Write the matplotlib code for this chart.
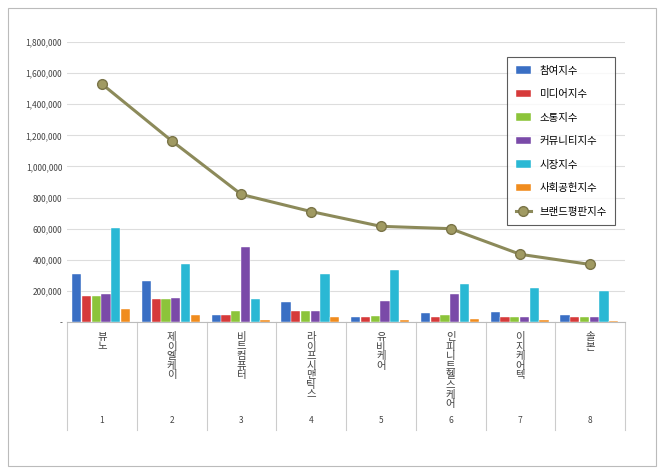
import matplotlib
matplotlib.use("Agg")
import matplotlib.pyplot as plt
from matplotlib import font_manager
import numpy as np
from matplotlib.patches import Rectangle

cjk = [f.name for f in font_manager.fontManager.ttflist if "CJK" in f.name]
pref = [n for n in ["Noto Sans CJK KR", "Noto Sans CJK JP", "Noto Sans CJK SC"] if n in cjk] + cjk
plt.rcParams["font.family"] = (pref[:1] if pref else []) + ["DejaVu Sans"]

categories = ["뷰노", "제이엘케이", "비트컴퓨터", "라이프시맨틱스", "유비케어", "인피니트헬스케어", "이지케어텍", "솔본"]
numbers = ["1", "2", "3", "4", "5", "6", "7", "8"]
series_names = ["참여지수", "미디어지수", "소통지수", "커뮤니티지수", "시장지수", "사회공헌지수"]
participation = [310000, 265000, 45000, 130000, 35000, 55000, 65000, 45000]
media = [170000, 150000, 45000, 70000, 35000, 30000, 35000, 30000]
communication = [170000, 150000, 70000, 70000, 40000, 45000, 35000, 35000]
community = [180000, 155000, 485000, 70000, 135000, 180000, 35000, 30000]
market = [605000, 375000, 145000, 310000, 335000, 245000, 220000, 200000]
social = [85000, 45000, 10000, 35000, 15000, 20000, 15000, 5000]
brand = [1530000, 1165000, 820000, 710000, 615000, 600000, 435000, 370000]
yticks = [0, 200000, 400000, 600000, 800000, 1000000, 1200000, 1400000, 1600000, 1800000]

colors = ["#3a6fc4", "#d63a3a", "#8cc43a", "#7a4aa8", "#2ab8d4", "#f08c1e"]
line_color = "#8c8a5a"

fig = plt.figure(figsize=(6.6, 4.74), dpi=100)
fig.patches.append(Rectangle((8/660, 8/474), 648/660, 458/474, transform=fig.transFigure,
                             fill=False, edgecolor="#bbbbbb", lw=0.8))
ax = fig.add_axes([67/660, 1 - 322/474, 558/660, 280/474])
n = len(categories)
x = np.arange(n)
w = 0.14
data = [participation, media, communication, community, market, social]
for i, (d, c, name) in enumerate(zip(data, colors, series_names)):
    ax.bar(x - 0.43 + w * i + w / 2, d, width=w * 0.95, color=c, label=name,
           edgecolor="white", linewidth=0.3, zorder=3)
ax.plot(x, brand, color=line_color, lw=2.2, marker="o", markersize=7,
        markerfacecolor="#a09a62", markeredgecolor="#7a7448", label="브랜드평판지수", zorder=4)
ax.set_xlim(-0.5, n - 0.5)
ax.set_ylim(0, 1800000)
ax.set_yticks(yticks)
ax.set_yticklabels([f"{v:,}" if v else "-" for v in yticks], fontsize=6, color="#444444")
ax.yaxis.grid(True, color="#dddddd", lw=0.8, zorder=0)
ax.set_xticks([])
for s in ["top", "right", "left"]:
    ax.spines[s].set_visible(False)
ax.spines["bottom"].set_color("#bbbbbb")
ax.tick_params(axis="y", length=0)

trans = ax.get_xaxis_transform()
depth = -(430 - 322) / 280
for k in range(n + 1):
    ax.plot([k - 0.5, k - 0.5], [0, depth], transform=trans, color="#cccccc", lw=0.8, clip_on=False)
for k in range(n):
    ax.text(k, -10 / 280, "\n".join(categories[k]), transform=trans, ha="center", va="top",
            fontsize=7.5, color="#444444", linespacing=0.95)
    ax.text(k, depth + 10 / 280, numbers[k], transform=trans, ha="center", va="center",
            fontsize=6, color="#444444")

handles, labels = ax.get_legend_handles_labels()
order = [1, 2, 3, 4, 5, 6, 0] if labels[0] == "브랜드평판지수" else list(range(len(labels)))
leg = ax.legend([handles[i] for i in order], [labels[i] for i in order],
                loc="upper left", bbox_to_anchor=(435 / 558, (322 - 52) / 280), fontsize=7.5,
                frameon=True, fancybox=False, edgecolor="#333333", labelspacing=1.3,
                handlelength=1.5, borderpad=0.8)
leg.get_frame().set_linewidth(0.8)
fig.savefig("out.png", dpi=100)
